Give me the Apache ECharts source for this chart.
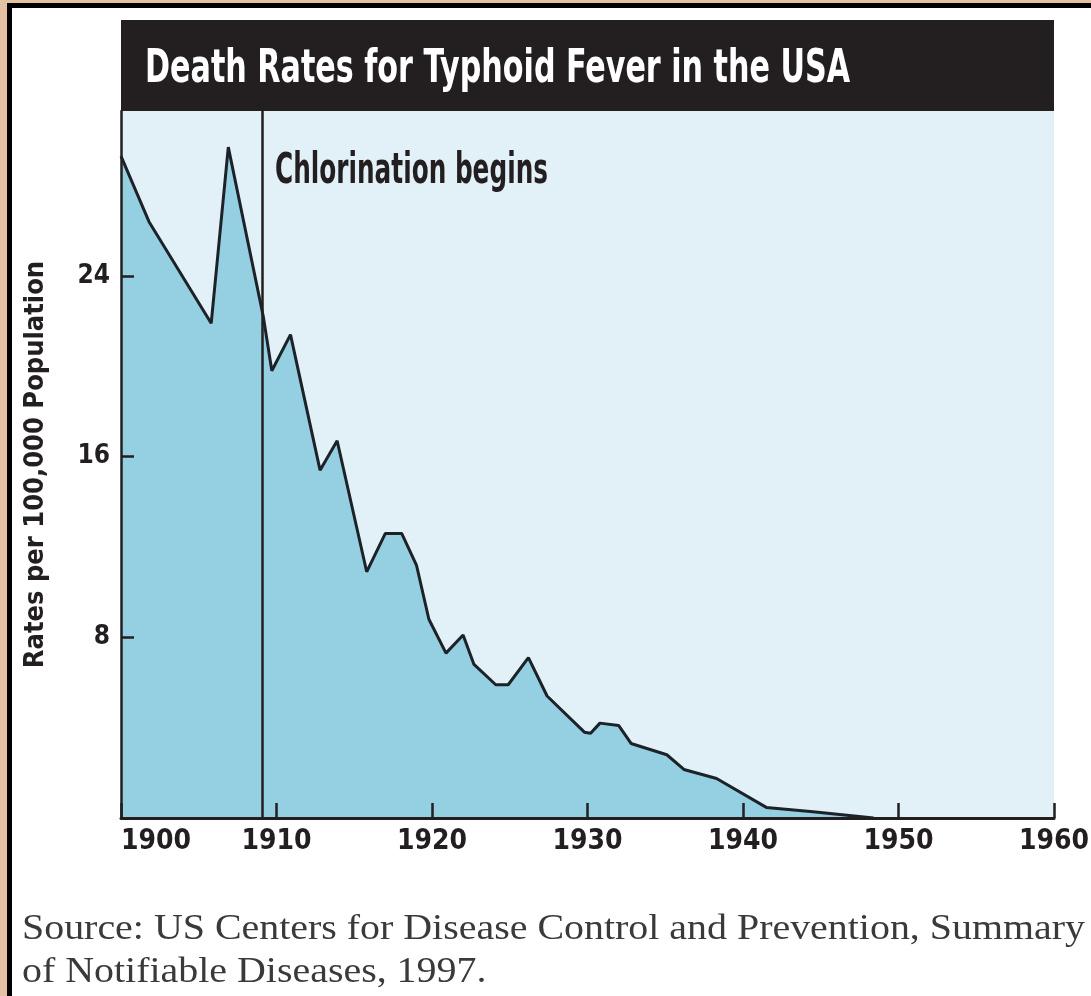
<!DOCTYPE html>
<html>
<head>
<meta charset="utf-8">
<title>Death Rates for Typhoid Fever in the USA</title>
<script src="https://cdn.jsdelivr.net/npm/echarts@6/dist/echarts.min.js"></script>
<style>
  html, body { margin: 0; padding: 0; background: #fff; }
  #chart { width: 1091px; height: 996px; }
</style>
</head>
<body>
<div id="chart"></div>
<script>
// values (year, deaths per 100,000)
var years = [1900, 1901.8, 1905.8, 1906.9, 1909.15, 1909.7, 1910.9, 1912.8, 1913.9, 1915.8,
  1917.0, 1918.05, 1919.0, 1919.8, 1920.9, 1922.0, 1922.7, 1924.1, 1924.9, 1926.2,
  1927.4, 1929.8, 1930.2, 1930.8, 1932.0, 1932.8, 1935.1, 1936.2, 1938.3, 1941.5,
  1944.5, 1948.4];
var rates = [29.3, 26.4, 21.9, 29.7, 22.2, 19.8, 21.4, 15.4, 16.7, 10.9,
  12.6, 12.6, 11.2, 8.8, 7.3, 8.1, 6.8, 5.9, 5.9, 7.1,
  5.4, 3.8, 3.75, 4.2, 4.1, 3.3, 2.8, 2.15, 1.75, 0.47,
  0.28, 0];
var yTicks = [8, 16, 24];
var chlorinationYear = 1909.1;

var titleText = 'Death Rates for Typhoid Fever in the USA';
var markText = 'Chlorination begins';
var yName = 'Rates per 100,000 Population';
var sourceLines = ['Source: US Centers for Disease Control and Prevention, Summary',
  'of Notifiable Diseases, 1997.'];

var ink = '#231f20';
var condensed = '"Liberation Sans Narrow", "DejaVu Sans Condensed", sans-serif';
var serif = '"Liberation Serif", "DejaVu Serif", serif';

// horizontal squeeze so a text fills the width it has in the print
function fitX(text, font, target) {
  var ctx = document.createElement('canvas').getContext('2d');
  ctx.font = font;
  return target / ctx.measureText(text).width;
}

var titleFont = 'bold 46px ' + condensed;
var markFont = 'bold 42px ' + condensed;
var sourceFont = '35px ' + serif;
var sourceScale = fitX(sourceLines[0], sourceFont, 1063);

var points = years.map(function (y, i) { return [y, rates[i]]; });

var myChart = echarts.init(document.getElementById('chart'));
myChart.setOption({
  animation: false,
  backgroundColor: '#fff',
  grid: {
    left: 121, right: 37, top: 111, bottom: 178,
    outerBoundsMode: 'none',
    show: true, backgroundColor: '#e2f0f7', borderWidth: 0
  },
  xAxis: {
    type: 'value', min: 1900, max: 1960, interval: 10, z: 10,
    axisLine: { lineStyle: { color: ink, width: 3 } },
    axisTick: { inside: true, length: 15, lineStyle: { color: ink, width: 2.5 } },
    splitLine: { show: false },
    axisLabel: {
      color: ink, fontFamily: condensed, fontWeight: 'bold', fontSize: 28,
      margin: 10, alignMinLabel: 'left',
      formatter: function (v) { return String(v); }
    }
  },
  yAxis: {
    type: 'value', min: 0, max: 31.3, z: 10,
    name: yName, nameLocation: 'middle', nameRotate: 90, nameGap: 72,
    nameTextStyle: { color: ink, fontFamily: condensed, fontWeight: 'bold', fontSize: 27 },
    axisLine: { show: true, lineStyle: { color: ink, width: 2.5 } },
    axisTick: { show: true, inside: true, length: 13, customValues: yTicks, lineStyle: { color: ink, width: 2.5 } },
    splitLine: { show: false },
    axisLabel: {
      customValues: yTicks,
      color: ink, fontFamily: condensed, fontWeight: 'bold', fontSize: 26, margin: 11
    }
  },
  series: [{
    type: 'line',
    data: points,
    symbol: 'none',
    lineStyle: { color: '#1c2228', width: 3 },
    areaStyle: { color: '#95d0e2', opacity: 1 },
    markLine: {
      silent: true,
      symbol: 'none',
      label: { show: false },
      lineStyle: { color: ink, width: 2.5, type: 'solid' },
      data: [{ xAxis: chlorinationYear }]
    },
    z: 2
  }],
  graphic: [
    // frame of the scanned page
    { type: 'rect', shape: { x: 0, y: 0, width: 7, height: 996 }, style: { fill: '#e4c1a2' } },
    { type: 'rect', shape: { x: 0, y: 0, width: 1091, height: 3 }, style: { fill: '#e4c1a2' } },
    { type: 'rect', shape: { x: 7, y: 3, width: 5, height: 993 }, style: { fill: '#000' } },
    { type: 'rect', shape: { x: 7, y: 3, width: 1084, height: 5 }, style: { fill: '#000' } },
    // title bar
    { type: 'rect', shape: { x: 121, y: 20, width: 933, height: 91 }, style: { fill: ink } },
    {
      type: 'text', x: 145, y: 70, scaleX: fitX(titleText, titleFont, 705),
      style: { text: titleText, font: titleFont, fill: '#fff', align: 'left', verticalAlign: 'middle' }
    },
    {
      type: 'text', x: 275, y: 172, z: 10, scaleX: fitX(markText, markFont, 273),
      style: { text: markText, font: markFont, fill: ink, align: 'left', verticalAlign: 'middle' }
    },
    {
      type: 'text', x: 22, y: 930, scaleX: sourceScale,
      style: { text: sourceLines[0], font: sourceFont, fill: '#3a3a3a', align: 'left', verticalAlign: 'middle' }
    },
    {
      type: 'text', x: 22, y: 973, scaleX: sourceScale,
      style: { text: sourceLines[1], font: sourceFont, fill: '#3a3a3a', align: 'left', verticalAlign: 'middle' }
    }
  ]
});
</script>
</body>
</html>
